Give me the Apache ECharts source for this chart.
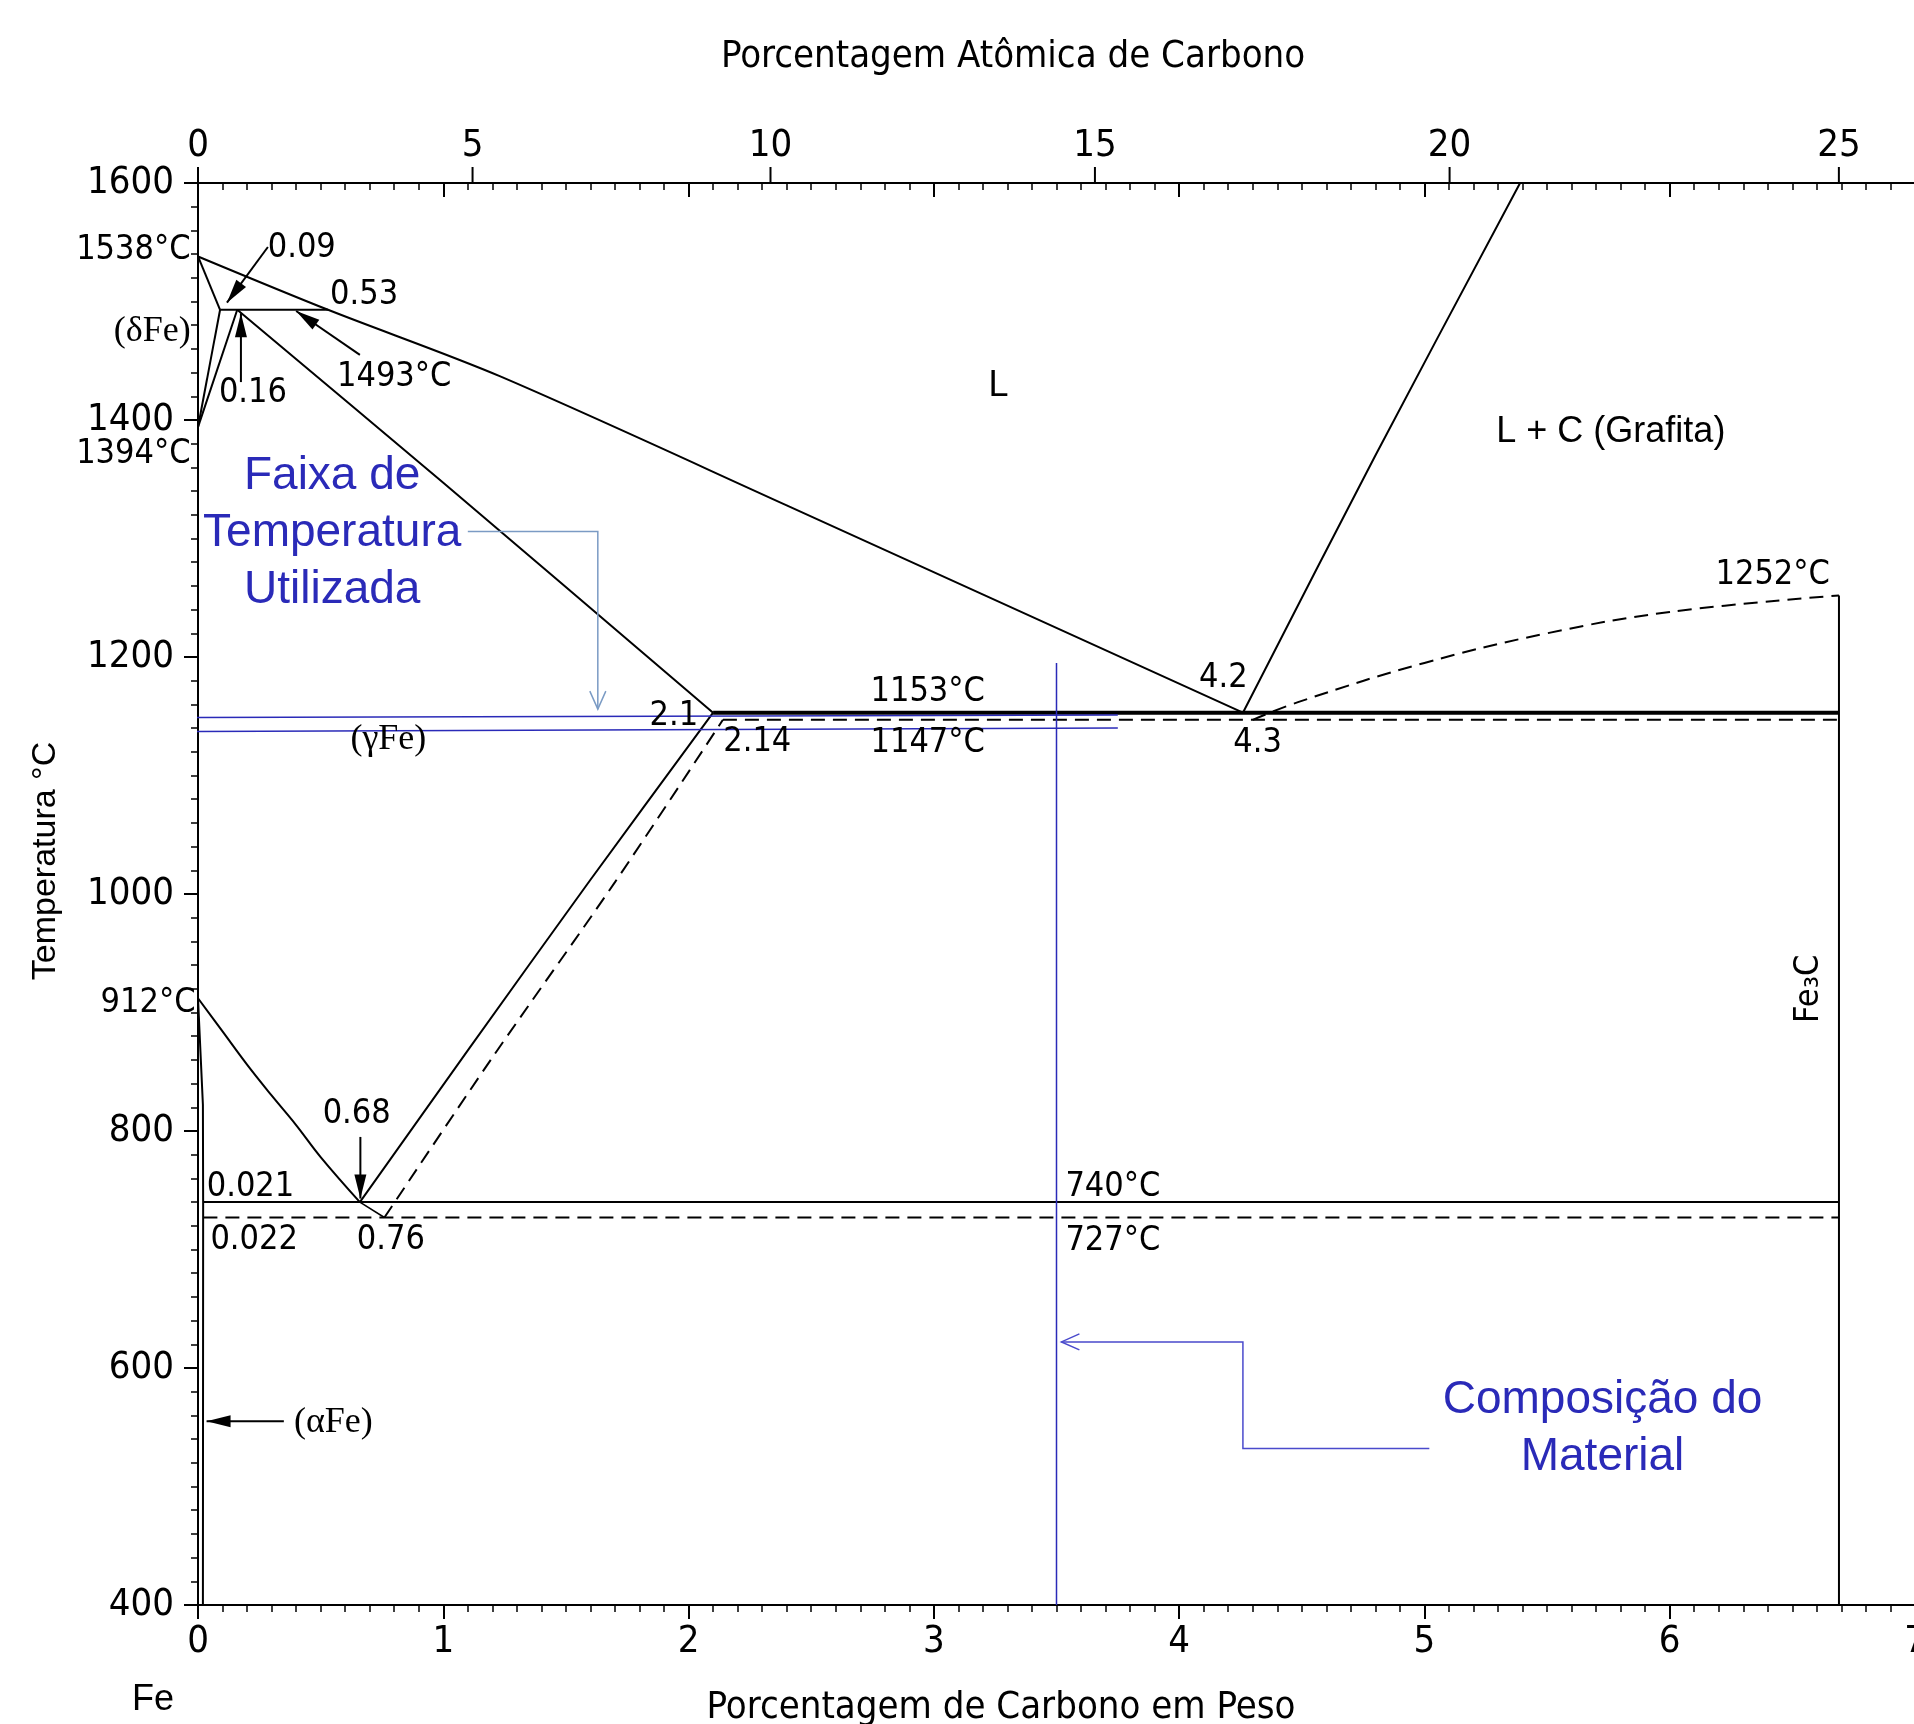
<!DOCTYPE html>
<html>
<head>
<meta charset="utf-8">
<title>Diagrama Fe-C</title>
<script src="https://cdn.jsdelivr.net/npm/echarts@6/dist/echarts.min.js"></script>
<style>
html, body { margin: 0; padding: 0; background: #fff; }
#chart { width: 1914px; height: 1724px; }
</style>
</head>
<body>
<div id="chart"></div>
<script>
// curvas do diagrama: [% C em peso, temperatura °C]
const liquidus = [[0, 1538], [0.53, 1493], [1.23, 1437], [2.4, 1328], [4.26, 1153]]
const liquidusGrafita = [[4.26, 1153], [4.8, 1370], [5.39, 1600]]
const liquidusFe3C = [[4.3, 1147], [4.5, 1163], [5.0, 1195], [5.5, 1220], [6.0, 1238], [6.69, 1252]]
const solidusDelta = [[0, 1538], [0.09, 1493]]
const peritetica = [[0.09, 1493], [0.53, 1493]]
const deltaGama1 = [[0, 1394], [0.09, 1493]]
const deltaGama2 = [[0, 1394], [0.16, 1493]]
const solidusGama = [[0.16, 1493], [1.0, 1347], [2.1, 1153]]
const eutetica = [[2.1, 1153], [6.69, 1153]]
const euteticaFe3C = [[2.14, 1147], [6.69, 1147]]
const acm = [[0.66, 740], [1.1, 868], [1.6, 1012], [2.1, 1153]]
const acmFe3C = [[0.76, 727], [1.2, 862], [1.7, 1010], [2.14, 1147]]
const a3 = [[0, 912], [0.1, 884], [0.2, 856], [0.3, 830], [0.4, 805], [0.5, 778], [0.66, 740]]
const a3Fe3C = [[0.66, 740], [0.76, 727]]
const alfa = [[0, 912], [0.02, 822], [0.021, 740], [0.02, 400]]
const eutetoide = [[0.021, 740], [6.69, 740]]
const eutetoideFe3C = [[0.022, 727], [6.69, 727]]
const cementita = [[6.69, 1252], [6.69, 400]]

// marcações em azul
const faixaSup = [[-0.07, 1149], [3.75, 1151]]
const faixaInf = [[-0.07, 1137], [3.75, 1140]]
const composicao = [[3.5, 1195], [3.5, 400]]

// eixo superior (% atômica)
const atomicTicks = [0, 5, 10, 15, 20, 25]

// textos dentro do gráfico: [texto, %C, T]
const rotulos = [
  ['0.09', 0.423, 1545], ['0.53', 0.677, 1505], ['0.16', 0.224, 1423],
  ['1493°C', 0.80, 1436], ['1252°C', 6.42, 1269], ['4.2', 4.18, 1182],
  ['1153°C', 2.975, 1170], ['2.1', 1.94, 1150], ['2.14', 2.28, 1128],
  ['1147°C', 2.975, 1127], ['4.3', 4.32, 1127], ['0.68', 0.647, 814],
  ['0.021', 0.214, 753], ['740°C', 3.73, 753], ['0.022', 0.229, 708],
  ['0.76', 0.786, 708], ['727°C', 3.73, 707]
]
const rotulosEsq = [['1538°C', -0.03, 1543], ['1394°C', -0.03, 1371], ['912°C', -0.01, 908]]
const fases = [['(δFe)', -0.03, 1475, 'right'], ['(γFe)', 0.776, 1130, 'center'], ['(αFe)', 0.552, 554, 'center']]
const regioes = [['L', 3.264, 1429], ['L + C (Grafita)', 5.76, 1390]]
const notas = [['Faixa de\nTemperatura\nUtilizada', 0.547, 1304], ['Composição do\nMaterial', 5.726, 549]]

// setas
const setasPretas = [
  [[0.285, 1546], [0.118, 1499]],
  [[0.175, 1432], [0.175, 1490]],
  [[0.66, 1455], [0.40, 1492]],
  [[0.662, 795], [0.662, 743]],
  [[0.35, 555], [0.035, 555]]
]
const setaFaixa = [[1.10, 1306], [1.63, 1306], [1.63, 1156]]
const setaComposicao = [[5.02, 532], [4.26, 532], [4.26, 622], [3.52, 622]]

const NARROW = "'Liberation Sans Narrow', 'DejaVu Sans Condensed', 'Liberation Sans', sans-serif"
const SANS = "'Liberation Sans', Arial, sans-serif"
const SERIF = "'Liberation Serif', 'DejaVu Serif', serif"
const AZUL = '#2a2ab8'

function toWeight (a) {
  return 100 * a * 12.011 / (a * 12.011 + (100 - a) * 55.845)
}

function linha (data, opts) {
  opts = opts || {}
  return {
    type: 'line',
    data: data,
    symbol: 'none',
    silent: true,
    smooth: opts.smooth || false,
    clip: opts.clip !== false,
    z: opts.z || 3,
    lineStyle: {
      color: opts.color || '#000',
      width: opts.width || 2,
      type: opts.dashed ? [14, 8] : 'solid'
    }
  }
}

function textoSerie (lista, font, color, align, lineHeight, rot) {
  return {
    type: 'custom',
    silent: true,
    z: 10,
    data: lista.map(r => [r[1], r[2]]),
    renderItem: function (params, api) {
      const r = lista[params.dataIndex]
      const p = api.coord([r[1], r[2]])
      const al = r[3] || align
      return {
        type: 'text',
        x: p[0],
        y: p[1],
        rotation: rot || 0,
        style: {
          text: r[0],
          font: font,
          fill: color,
          align: al,
          textAlign: al,
          verticalAlign: 'middle',
          textVerticalAlign: 'middle',
          lineHeight: lineHeight
        }
      }
    }
  }
}

function cabeca (a, b, tipo, cor, lw) {
  const dx = b[0] - a[0]
  const dy = b[1] - a[1]
  const len = Math.sqrt(dx * dx + dy * dy) || 1
  const ux = dx / len
  const uy = dy / len
  const L = tipo === 'cheia' ? 24 : 18
  const w = tipo === 'cheia' ? 6 : 8
  const bx = b[0] - ux * L
  const by = b[1] - uy * L
  const p1 = [bx - uy * w, by + ux * w]
  const p2 = [bx + uy * w, by - ux * w]
  if (tipo === 'cheia') {
    return { type: 'polygon', shape: { points: [b, p1, p2] }, style: { fill: cor } }
  }
  return { type: 'polyline', shape: { points: [p1, b, p2] }, style: { stroke: cor, lineWidth: lw, fill: null } }
}

function setaSerie (lista, cor, lw, tipo) {
  return {
    type: 'custom',
    silent: true,
    z: 9,
    data: lista.map(s => s[0]),
    renderItem: function (params, api) {
      const pts = lista[params.dataIndex].map(p => api.coord(p))
      const n = pts.length
      return {
        type: 'group',
        children: [
          { type: 'polyline', shape: { points: pts }, style: { stroke: cor, lineWidth: lw, fill: null } },
          cabeca(pts[n - 2], pts[n - 1], tipo, cor, lw)
        ]
      }
    }
  }
}

let myChart = echarts.init(document.getElementById('chart'))

let series = [
  linha(liquidus, { smooth: 0.3 }), linha(liquidusGrafita, { smooth: 0.3 }), linha(solidusDelta), linha(peritetica),
  linha(deltaGama1), linha(deltaGama2), linha(solidusGama, { smooth: 0.3 }), linha(acm, { smooth: 0.3 }),
  linha(a3, { smooth: 0.4 }),
  linha(a3Fe3C, { width: 1.5 }), linha(alfa), linha(eutetoide), linha(cementita),
  linha(eutetica, { width: 4 }),
  linha(liquidusFe3C, { dashed: true, smooth: 0.4 }), linha(euteticaFe3C, { dashed: true }),
  linha(acmFe3C, { dashed: true, smooth: 0.3 }), linha(eutetoideFe3C, { dashed: true }),
  linha(faixaSup, { color: AZUL, width: 1.5, clip: false, z: 6 }),
  linha(faixaInf, { color: AZUL, width: 1.5, clip: false, z: 6 }),
  linha(composicao, { color: AZUL, width: 1.5, z: 6 }),
  {
    type: 'custom',
    silent: true,
    data: atomicTicks.map(a => [toWeight(a), 1600]),
    renderItem: function (params, api) {
      const a = atomicTicks[params.dataIndex]
      const p = api.coord([toWeight(a), 1600])
      return {
        type: 'group',
        children: [
          { type: 'line', shape: { x1: p[0], y1: p[1], x2: p[0], y2: p[1] - 16 }, style: { stroke: '#000', lineWidth: 2 } },
          {
            type: 'text',
            x: p[0],
            y: p[1] - 37,
            style: { text: String(a), font: '38px ' + NARROW, fill: '#000', align: 'center', textAlign: 'center', verticalAlign: 'middle', textVerticalAlign: 'middle' }
          }
        ]
      }
    }
  },
  textoSerie(rotulos, '34px ' + NARROW, '#000', 'center'),
  textoSerie(rotulosEsq, '34px ' + NARROW, '#000', 'right'),
  textoSerie(fases, '36px ' + SERIF, '#000', 'center'),
  textoSerie(regioes, '36px ' + SANS, '#000', 'center'),
  textoSerie([['Fe₃C', 6.57, 920]], '34px ' + NARROW, '#000', 'center', null, Math.PI / 2),
  textoSerie(notas, '46px ' + SANS, AZUL, 'center', 57),
  setaSerie(setasPretas, '#000', 2, 'cheia'),
  setaSerie([setaFaixa], '#7b9bc4', 1.5, 'aberta'),
  setaSerie([setaComposicao], '#4a4acc', 1.5, 'aberta')
]

let option = {
  animation: false,
  backgroundColor: '#fff',
  grid: {
    left: 198,
    top: 183,
    width: 1717,
    height: 1422,
    containLabel: false,
    outerBoundsMode: 'none'
  },
  xAxis: [{
    type: 'value',
    position: 'bottom',
    min: 0,
    max: 7,
    interval: 1,
    axisLine: { onZero: false, lineStyle: { color: '#000', width: 2 } },
    axisTick: { length: 14, lineStyle: { color: '#000', width: 2 } },
    minorTick: { show: true, splitNumber: 10, length: 7, lineStyle: { color: '#000', width: 1.5 } },
    axisLabel: { fontSize: 38, fontFamily: NARROW, color: '#000', margin: 18, hideOverlap: false },
    splitLine: { show: false }
  }, {
    type: 'value',
    position: 'top',
    min: 0,
    max: 7,
    interval: 1,
    axisLine: { onZero: false, lineStyle: { color: '#000', width: 2 } },
    axisTick: { inside: true, length: 14, lineStyle: { color: '#000', width: 2 } },
    minorTick: { show: true, splitNumber: 10, length: 7, lineStyle: { color: '#000', width: 1.5 } },
    axisLabel: { show: false },
    splitLine: { show: false }
  }],
  yAxis: {
    type: 'value',
    min: 400,
    max: 1600,
    interval: 200,
    axisLine: { show: true, onZero: false, lineStyle: { color: '#000', width: 2 } },
    axisTick: { length: 14, lineStyle: { color: '#000', width: 2 } },
    minorTick: { show: true, splitNumber: 10, length: 7, lineStyle: { color: '#000', width: 1.5 } },
    axisLabel: { fontSize: 38, fontFamily: NARROW, color: '#000', margin: 24, formatter: v => String(v) },
    splitLine: { show: false }
  },
  graphic: [{
    type: 'text',
    x: 1013,
    y: 57,
    style: { text: 'Porcentagem Atômica de Carbono', font: '38px ' + NARROW, fill: '#000', align: 'center', textAlign: 'center', verticalAlign: 'middle', textVerticalAlign: 'middle' }
  }, {
    type: 'text',
    x: 1001,
    y: 1708,
    style: { text: 'Porcentagem de Carbono em Peso', font: '38px ' + NARROW, fill: '#000', align: 'center', textAlign: 'center', verticalAlign: 'middle', textVerticalAlign: 'middle' }
  }, {
    type: 'text',
    x: 153,
    y: 1700,
    style: { text: 'Fe', font: '36px ' + SANS, fill: '#000', align: 'center', textAlign: 'center', verticalAlign: 'middle', textVerticalAlign: 'middle' }
  }, {
    type: 'text',
    x: 46,
    y: 861,
    rotation: Math.PI / 2,
    style: { text: 'Temperatura °C', font: '34px ' + SANS, fill: '#000', align: 'center', textAlign: 'center', verticalAlign: 'middle', textVerticalAlign: 'middle' }
  }],
  series: series
}
myChart.setOption(option)
</script>
</body>
</html>
